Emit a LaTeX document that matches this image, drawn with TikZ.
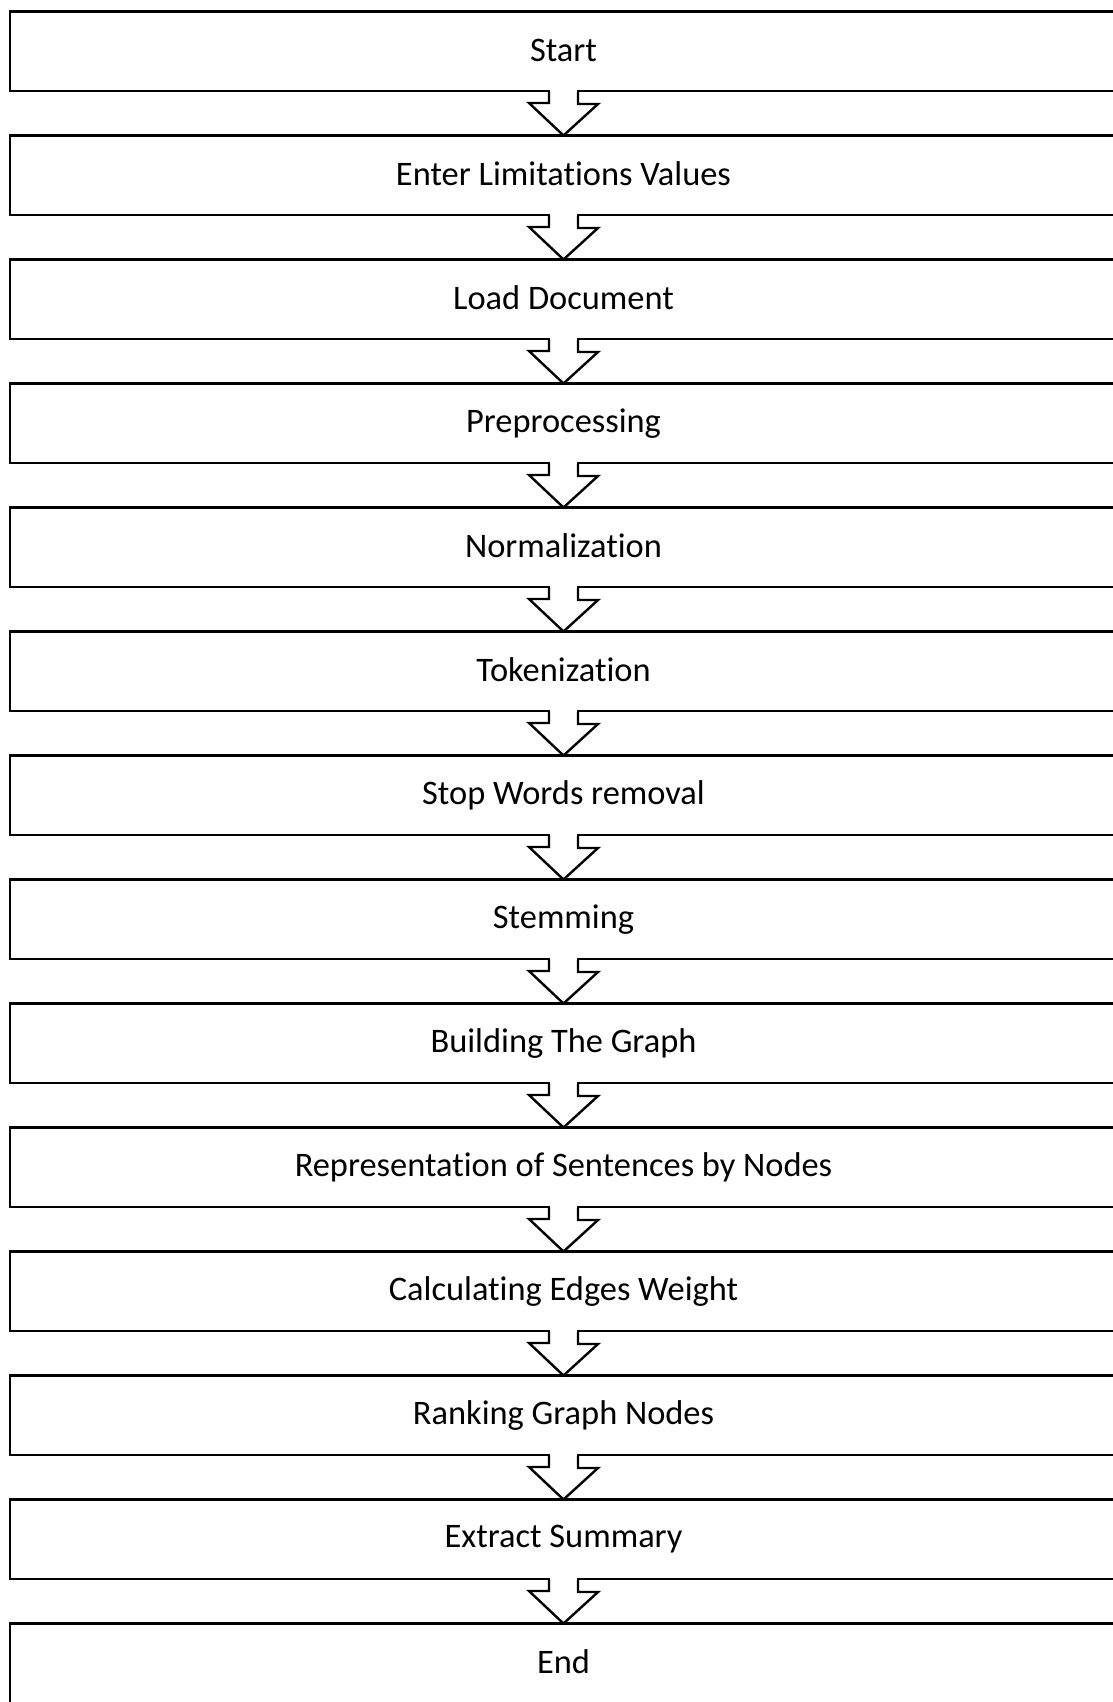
\documentclass[tikz,border=0pt]{standalone}
\usepackage{fontspec}
\setmainfont[Ligatures=NoCommon]{Carlito}
\begin{document}
\begin{tikzpicture}[x=1pt,y=-1pt,
  stepbox/.style={draw=black, line width=2.8pt, rectangle, outer sep=0pt,
    minimum width=1107pt, minimum height=79.5pt, inner sep=0pt,
    font=\fontsize{34.4}{40}\selectfont},
  blockarrow/.style={draw=black, line width=2.4pt, line join=miter}
]
\useasboundingbox (0,0) rectangle (1113,1702);
\clip (0,0) rectangle (1113,1702);

% process steps, one box per stage
\foreach \lbl [count=\i] in {Start, Enter Limitations Values, Load Document,
  Preprocessing, Normalization, Tokenization, Stop Words removal, Stemming,
  Building The Graph, Representation of Sentences by Nodes,
  Calculating Edges Weight, Ranking Graph Nodes, Extract Summary, End}
  \node[stepbox] (b\i) at (563.5, {51.25+124*(\i-1)}) {\raisebox{2.5pt}{\lbl}};

% hollow block arrows joining consecutive boxes
\foreach \i [evaluate=\i as \j using int(\i+1)] in {1,...,13} {
  \fill[white] ([xshift=-13.3pt,yshift=2pt]b\i.south) rectangle ([xshift=13.3pt,yshift=-4pt]b\i.south);
  \draw[blockarrow] ([xshift=-14.5pt]b\i.south) -- ++(0,12) -- ++(-20,0)
    -- (b\j.north) -- ++(34.5,-31.5) -- ++(-20,0) -- ++(0,-12);
}
\end{tikzpicture}
\end{document}
